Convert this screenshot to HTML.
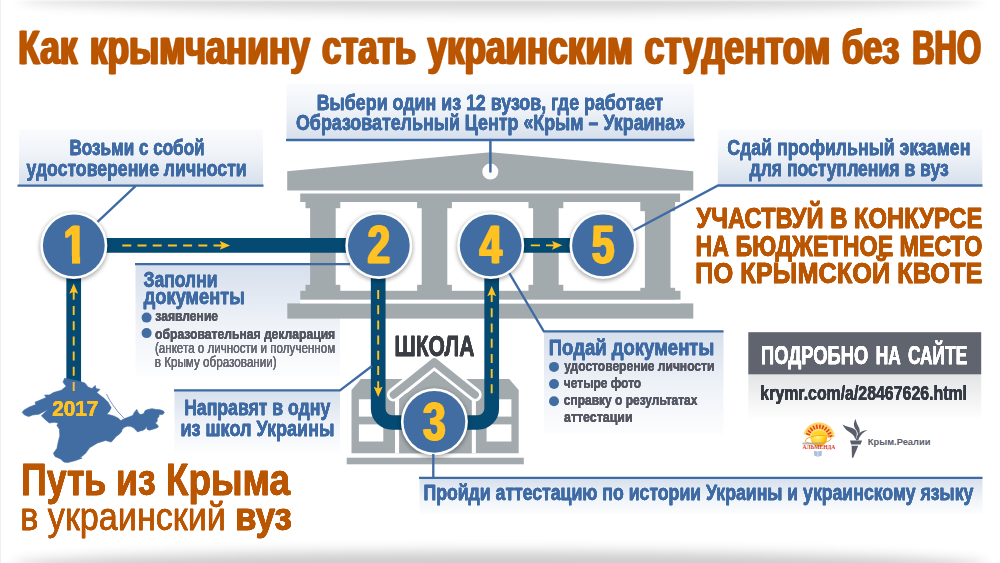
<!DOCTYPE html>
<html lang="ru">
<head>
<meta charset="utf-8">
<title>Как крымчанину стать украинским студентом без ВНО</title>
<style>
html,body{margin:0;padding:0;background:#fff;}
body{width:1000px;height:563px;overflow:hidden;}
svg{display:block;}
text{font-family:"Liberation Sans",sans-serif;font-weight:bold;stroke-linejoin:round;}
.bl{fill:#3f6ba4;stroke:#3f6ba4;}
.or{fill:#ba5404;stroke:#ba5404;}
.orr{fill:#ba5404;stroke:#ba5404;font-weight:normal;}
.dk{fill:#545762;stroke:#545762;}
.rg{fill:#666973;stroke:#666973;font-weight:normal;}
.sk{fill:#3a3c42;stroke:#3a3c42;}
.wh{fill:#fff;stroke:#fff;}
.url{fill:#343a44;stroke:#343a44;}
.kr{fill:#5a5f6b;}
.num{fill:#ffc222;stroke:#ffc222;}
.g{fill:#a3aaad;}
</style>
</head>
<body>
<svg width="1000" height="563" viewBox="0 0 1000 563">
<defs>
  <linearGradient id="gUp" x1="0" y1="0" x2="0" y2="1"><stop offset="0" stop-color="#fafbfd"/><stop offset="0.45" stop-color="#eff3f8"/><stop offset="1" stop-color="#d6dfec"/></linearGradient>
  <linearGradient id="gDn" x1="0" y1="0" x2="0" y2="1"><stop offset="0" stop-color="#d6dfec"/><stop offset="0.55" stop-color="#eff3f8"/><stop offset="1" stop-color="#fcfdfe"/></linearGradient>
  <linearGradient id="gSite" x1="0" y1="0" x2="0" y2="1"><stop offset="0" stop-color="#e3e4e6"/><stop offset="1" stop-color="#ffffff"/></linearGradient>
  <filter id="vg" filterUnits="userSpaceOnUse" x="-60" y="-80" width="1120" height="740"><feGaussianBlur stdDeviation="6.5"/></filter>
  <filter id="sh" x="-30%" y="-30%" width="160%" height="160%"><feGaussianBlur stdDeviation="2.2"/></filter>
  <filter id="hbN" x="-20%" y="-10%" width="140%" height="120%"><feOffset dx="-0.9" result="a"/><feOffset in="SourceGraphic" dx="0.9" result="b"/><feMerge><feMergeNode in="a"/><feMergeNode in="b"/><feMergeNode in="SourceGraphic"/></feMerge></filter>
  <filter id="hb10" x="-5%" y="-15%" width="110%" height="130%"><feOffset dx="-0.1" result="a"/><feOffset in="SourceGraphic" dx="0.1" result="b"/><feMerge><feMergeNode in="a"/><feMergeNode in="b"/><feMergeNode in="SourceGraphic"/></feMerge></filter>
  <filter id="hb15" x="-5%" y="-15%" width="110%" height="130%"><feOffset dx="-0.15" result="a"/><feOffset in="SourceGraphic" dx="0.15" result="b"/><feMerge><feMergeNode in="a"/><feMergeNode in="b"/><feMergeNode in="SourceGraphic"/></feMerge></filter>
  <filter id="hb25" x="-5%" y="-15%" width="110%" height="130%"><feOffset dx="-0.25" result="a"/><feOffset in="SourceGraphic" dx="0.25" result="b"/><feMerge><feMergeNode in="a"/><feMergeNode in="b"/><feMergeNode in="SourceGraphic"/></feMerge></filter>
  <filter id="hb30" x="-5%" y="-15%" width="110%" height="130%"><feOffset dx="-0.3" result="a"/><feOffset in="SourceGraphic" dx="0.3" result="b"/><feMerge><feMergeNode in="a"/><feMergeNode in="b"/><feMergeNode in="SourceGraphic"/></feMerge></filter>
  <filter id="hb40" x="-5%" y="-15%" width="110%" height="130%"><feOffset dx="-0.4" result="a"/><feOffset in="SourceGraphic" dx="0.4" result="b"/><feMerge><feMergeNode in="a"/><feMergeNode in="b"/><feMergeNode in="SourceGraphic"/></feMerge></filter>
  <filter id="hb70" x="-5%" y="-15%" width="110%" height="130%"><feOffset dx="-0.7" result="a"/><feOffset in="SourceGraphic" dx="0.7" result="b"/><feMerge><feMergeNode in="a"/><feMergeNode in="b"/><feMergeNode in="SourceGraphic"/></feMerge></filter>
  <radialGradient id="gSun" cx="0.4" cy="0.35" r="0.7"><stop offset="0" stop-color="#fff6a0"/><stop offset="0.6" stop-color="#ffd21e"/><stop offset="1" stop-color="#f39a12"/></radialGradient>
</defs>

<!-- background vignette -->
<rect x="0" y="0" width="1000" height="563" fill="#ffffff"/>
<ellipse cx="500" cy="-2" rx="482" ry="13.5" fill="#000" opacity=".155" filter="url(#vg)"/>
<ellipse cx="500" cy="566" rx="488" ry="14.5" fill="#000" opacity=".2" filter="url(#vg)"/>
<rect x="0" y="0" width="1000" height="1.4" fill="#fff" opacity=".5"/>
<rect x="0" y="0" width="1" height="563" fill="#efefef"/>

<!-- title -->
<g id="title">
  <text y="64" font-size="48.7" filter="url(#hb70)"><tspan class="or" x="18.37" textLength="59.12" lengthAdjust="spacingAndGlyphs" stroke-width="0.35">Как</tspan> <tspan class="or" x="89.76" textLength="220.24" lengthAdjust="spacingAndGlyphs" stroke-width="0.35">крымчанину</tspan> <tspan class="or" x="321.99" textLength="94.01" lengthAdjust="spacingAndGlyphs" stroke-width="0.35">стать</tspan> <tspan class="or" x="427.38" textLength="205.63" lengthAdjust="spacingAndGlyphs" stroke-width="0.35">украинским</tspan> <tspan class="or" x="644.46" textLength="186.09" lengthAdjust="spacingAndGlyphs" stroke-width="0.35">студентом</tspan> <tspan class="or" x="842.10" textLength="57.29" lengthAdjust="spacingAndGlyphs" stroke-width="0.35">без</tspan> <tspan class="or" x="912.24" textLength="68.74" lengthAdjust="spacingAndGlyphs" stroke-width="0.35">ВНО</tspan></text>
</g>

<!-- label backgrounds -->
<g id="boxes">
  <rect x="19" y="129.3" width="244" height="56.2" fill="url(#gUp)"/>
  <rect x="286.5" y="84" width="407.3" height="56" fill="url(#gUp)"/>
  <rect x="717.8" y="129.2" width="264.5" height="56.3" fill="url(#gUp)"/>
  <rect x="135.5" y="264" width="204.5" height="112" fill="url(#gDn)"/>
  <rect x="174.5" y="390" width="165.5" height="62" fill="url(#gDn)"/>
  <rect x="544" y="331" width="179.5" height="103" fill="url(#gDn)"/>
  <rect x="419.5" y="478" width="563" height="36" fill="url(#gDn)"/>
</g>

<!-- university building -->
<g id="building" class="g">
  <polygon points="287.2,171.3 490.3,152.2 693.3,171.3 693.3,190.4 287.2,190.4"/>
  <rect x="335" y="198" width="311" height="96" fill="#fff"/>
  <rect x="300.2" y="193.5" width="379.9" height="8.5"/>
  <rect x="305.5" y="201.5" width="34.8" height="6.7"/><rect x="310.1" y="208" width="25.6" height="80"/><rect x="305.5" y="284.8" width="34.8" height="6.4"/>
  <rect x="417.1" y="201.5" width="34.8" height="6.7"/><rect x="421.7" y="208" width="25.6" height="80"/><rect x="417.1" y="284.8" width="34.8" height="6.4"/>
  <rect x="528.5" y="201.5" width="34.8" height="6.7"/><rect x="533.1" y="208" width="25.6" height="80"/><rect x="528.5" y="284.8" width="34.8" height="6.4"/>
  <rect x="640.3" y="201.5" width="34.8" height="9.7"/><rect x="644.9" y="208" width="25.6" height="80"/><rect x="640.3" y="287.8" width="34.8" height="13.0"/>
  <rect x="300.3" y="290.8" width="380.2" height="9"/>
  <rect x="287.3" y="303.4" width="406" height="15.2"/>
  <rect x="300.3" y="299.8" width="380.2" height="3.6" fill="#fff"/>
</g>

<!-- school -->
<g id="school">
  <polygon class="g" points="351.5,390 361,379 509.2,379 518.7,390 518.7,453.2 351.5,453.2"/>
  <rect class="g" x="346.7" y="457.7" width="177.1" height="6.6"/>
  <g fill="#fff">
    <rect x="358.9" y="399.3" width="24.4" height="17.3"/><rect x="358.9" y="424.4" width="24.4" height="17.1"/>
    <rect x="486.6" y="399.3" width="24.8" height="17.3"/><rect x="486.6" y="424.4" width="24.8" height="17.1"/>
    <rect x="395" y="396" width="4.3" height="57.2"/><rect x="471.6" y="396" width="4.3" height="57.2"/>
  </g>
  <polygon fill="#fff" points="434.3,352 388,393 480.6,393"/>
  <polygon class="g" points="434.3,370.8 399.3,399.2 399.3,453.2 471.6,453.2 471.6,399.2"/>
  <polyline points="393.6,394.8 434.3,362.1 475,394.8" fill="none" stroke="#fff" stroke-width="13.4" stroke-linecap="round" stroke-linejoin="round"/>
  <polyline points="393.6,394.8 434.3,362.1 475,394.8" fill="none" stroke="#a3aaad" stroke-width="7.8" stroke-linecap="round" stroke-linejoin="round"/>
</g>

<!-- route -->
<g id="pipes">
  <g fill="none" stroke="#054a72" stroke-width="14.7">
    <path d="M73.7,245.4 V386"/>
    <path d="M73.7,245.45 H378.3"/>
    <path d="M378.2,245.4 V408.5 A14,14 0 0 0 392.2,422.5 H434.3"/>
    <path d="M434.3,422.5 H477.7 A14,14 0 0 0 491.7,408.5 V245.4"/>
    <path d="M490.6,245.35 H603"/>
  </g>
  <g fill="none" stroke="#ffc222" stroke-width="1.9" stroke-dasharray="9 6.2">
    <path d="M122.3,245.45 H222.5"/>
    <path d="M73.7,391 V291"/>
    <path d="M378.2,290 V389"/>
    <path d="M491.7,393.3 V293"/>
    <path d="M530.8,245.35 H540 M546,245.35 H554" stroke-dasharray="none"/>
  </g>
  <polygon fill="#ffc222" points="230.1,245.4 219.8,241.0 221.7,245.4 219.8,249.8"/>
  <polygon fill="#ffc222" points="73.7,283.4 69.3,293.7 73.7,291.8 78.1,293.7"/>
  <polygon fill="#ffc222" points="378.2,397.0 373.8,386.7 378.2,388.6 382.6,386.7"/>
  <polygon fill="#ffc222" points="491.7,285.9 487.3,296.2 491.7,294.3 496.1,296.2"/>
  <polygon fill="#ffc222" points="562.3,245.3 552.0,240.9 553.9,245.3 552.0,249.8"/>
</g>

<!-- crimea -->
<g id="crimea">
  <polygon fill="#416da3" stroke="#416da3" stroke-width=".6" stroke-linejoin="round" points="64.6,378.2 63.0,382.2 66.2,386.2 61.4,390.2 53.4,392.6 49.4,395.0 44.6,395.0 46.2,397.4 39.0,400.6 35.0,402.2 35.8,404.6 29.4,407.0 23.8,410.2 22.2,412.6 24.6,415.0 28.6,416.6 32.6,415.0 39.0,414.2 47.8,409.4 41.4,415.8 45.4,419.8 49.4,423.0 54.2,422.2 58.2,423.0 56.9,425.4 59.4,429.3 59.8,435.7 58.2,442.1 56.9,448.5 53.4,453.3 55.0,456.5 60.6,458.9 63.8,462.1 67.7,462.6 75.7,460.5 82.1,458.1 80.0,458.1 85.6,453.3 89.6,447.7 97.6,442.9 105.6,440.5 111.2,442.1 113.6,439.4 116.0,436.6 119.2,434.2 121.6,431.8 122.0,429.8 124.0,427.4 127.2,426.2 130.4,426.3 133.6,427.8 136.0,430.2 137.6,431.9 140.0,431.0 143.2,430.2 145.6,428.6 146.4,425.8 147.2,429.4 149.6,430.2 152.0,429.4 156.0,428.2 158.4,427.0 157.6,425.0 155.2,423.0 157.2,421.4 157.2,418.2 158.8,417.0 159.2,414.6 162.4,414.6 164.3,413.0 163.5,411.0 160.0,409.8 156.0,409.4 152.0,408.7 148.0,409.4 145.2,410.6 143.6,413.8 140.0,414.6 138.0,412.2 136.8,409.4 134.4,412.2 132.8,415.4 128.8,417.0 124.8,418.6 120.8,420.6 118.4,418.2 114.4,416.2 110.4,415.0 106.8,414.2 109.6,411.0 111.2,407.8 108.0,402.2 104.0,398.2 100.8,395.8 96.8,392.6 100.0,389.4 96.0,388.6 95.2,385.4 92.0,388.6 88.0,387.0 84.8,383.0 80.0,381.4"/>
  <path d="M106.4,393.9 Q110,401 112.5,404.5 Q117.5,412 124.2,418.5" fill="none" stroke="#416da3" stroke-width=".7"/>
  <path d="M73.7,391 V376" stroke="#ffc222" stroke-width="1.9" stroke-dasharray="9 6.2" fill="none"/>
  <text class="num" x="52.30" y="416.4" font-size="22.9" textLength="46.09" lengthAdjust="spacingAndGlyphs" filter="url(#hb25)" stroke-width="0.2">2017</text>
</g>

<!-- step circles -->
<g id="circles">
  <circle cx="73.8" cy="246.9" r="34" fill="#000" opacity=".33" filter="url(#sh)"/><circle cx="73.8" cy="245.4" r="33.5" fill="#fff"/><circle cx="73.8" cy="245.4" r="30.9" fill="#416da3"/>
  <circle cx="378.8" cy="246.9" r="34" fill="#000" opacity=".33" filter="url(#sh)"/><circle cx="378.8" cy="245.4" r="33.5" fill="#fff"/><circle cx="378.8" cy="245.4" r="30.9" fill="#416da3"/>
  <circle cx="490.7" cy="246.9" r="34" fill="#000" opacity=".33" filter="url(#sh)"/><circle cx="490.7" cy="245.4" r="33.5" fill="#fff"/><circle cx="490.7" cy="245.4" r="30.9" fill="#416da3"/>
  <circle cx="603" cy="246.9" r="34" fill="#000" opacity=".33" filter="url(#sh)"/><circle cx="603" cy="245.4" r="33.5" fill="#fff"/><circle cx="603" cy="245.4" r="30.9" fill="#416da3"/>
  <circle cx="434.4" cy="423.3" r="34" fill="#000" opacity=".33" filter="url(#sh)"/><circle cx="434.4" cy="421.8" r="33.5" fill="#fff"/><circle cx="434.4" cy="421.8" r="30.9" fill="#416da3"/>
  <text class="num" x="74.8" y="263.4" font-size="54" text-anchor="middle" textLength="22.6" lengthAdjust="spacingAndGlyphs" stroke-width="0.3" filter="url(#hbN)">1</text>
  <text class="num" x="378.8" y="263.4" font-size="54" text-anchor="middle" textLength="22.6" lengthAdjust="spacingAndGlyphs" stroke-width="0.3" filter="url(#hbN)">2</text>
  <text class="num" x="490.7" y="263.4" font-size="54" text-anchor="middle" textLength="22.6" lengthAdjust="spacingAndGlyphs" stroke-width="0.3" filter="url(#hbN)">4</text>
  <text class="num" x="603" y="263.4" font-size="54" text-anchor="middle" textLength="22.6" lengthAdjust="spacingAndGlyphs" stroke-width="0.3" filter="url(#hbN)">5</text>
  <text class="num" x="434.4" y="439.8" font-size="54" text-anchor="middle" textLength="22.6" lengthAdjust="spacingAndGlyphs" stroke-width="0.3" filter="url(#hbN)">3</text>
  <rect x="61" y="256" width="11" height="9.2" fill="#416da3"/><rect x="80.1" y="256" width="8" height="9.2" fill="#416da3"/>
  </g>

<!-- labels -->
<g id="labels">
  <g fill="none" stroke="#3f6ba4" stroke-width="2.3">
    <path d="M17.5,185.6 H263.5 M136,185.6 L97.5,221.9"/>
    <path d="M286,140 H694.5"/>
    <path d="M982.5,185.5 H718 L633.6,230.6"/>
    <path d="M135,264.2 H350"/>
    <path d="M174,390.3 H340 L372,366"/>
    <path d="M723.5,331.4 H543.8 L509.3,273.2"/>
    <path d="M433.3,454 V477.9 M419,477.9 H982.5"/>
  </g>
  <circle cx="490.3" cy="171.6" r="8" fill="#fff"/>
  <path d="M490.4,140 V171.6" stroke="#3f6ba4" stroke-width="2.5" stroke-linecap="round"/>
  <text class="bl" x="69.48" y="154.6" font-size="22.8" textLength="135.13" lengthAdjust="spacingAndGlyphs" filter="url(#hb40)" stroke-width="0.3">Возьми с собой</text>
  <text class="bl" x="26.55" y="175.7" font-size="22.8" textLength="220.10" lengthAdjust="spacingAndGlyphs" filter="url(#hb40)" stroke-width="0.3">удостоверение личности</text>
  <text class="bl" x="316.74" y="109.8" font-size="22.8" textLength="346.59" lengthAdjust="spacingAndGlyphs" filter="url(#hb40)" stroke-width="0.3">Выбери один из 12 вузов, где работает</text>
  <text class="bl" x="295.99" y="130.4" font-size="22.8" textLength="389.18" lengthAdjust="spacingAndGlyphs" filter="url(#hb40)" stroke-width="0.3">Образовательный Центр «Крым – Украина»</text>
  <text class="bl" x="727.30" y="154.9" font-size="22.8" textLength="243.07" lengthAdjust="spacingAndGlyphs" filter="url(#hb40)" stroke-width="0.3">Сдай профильный экзамен</text>
  <text class="bl" x="749.55" y="176.1" font-size="22.8" textLength="199.10" lengthAdjust="spacingAndGlyphs" filter="url(#hb40)" stroke-width="0.3">для поступления в вуз</text>
  <text class="or" x="696.45" y="228.2" font-size="29" textLength="285.83" lengthAdjust="spacingAndGlyphs" filter="url(#hb40)" stroke-width="0.5">УЧАСТВУЙ В КОНКУРСЕ</text>
  <text class="or" x="695.50" y="255.5" font-size="29" textLength="286.80" lengthAdjust="spacingAndGlyphs" filter="url(#hb40)" stroke-width="0.5">НА БЮДЖЕТНОЕ МЕСТО</text>
  <text class="or" x="695.37" y="283" font-size="29" textLength="286.95" lengthAdjust="spacingAndGlyphs" filter="url(#hb40)" stroke-width="0.5">ПО КРЫМСКОЙ КВОТЕ</text>
  <text class="bl" x="143.48" y="286.9" font-size="22.6" textLength="74.06" lengthAdjust="spacingAndGlyphs" filter="url(#hb40)" stroke-width="0.3">Заполни</text>
  <text class="bl" x="143.75" y="304.3" font-size="22.6" textLength="101.14" lengthAdjust="spacingAndGlyphs" filter="url(#hb40)" stroke-width="0.3">документы</text>
  <circle cx="146.6" cy="317.6" r="5" fill="#416da3"/><circle cx="146.6" cy="333.1" r="5" fill="#416da3"/>
  <text class="dk" x="155.31" y="320.9" font-size="15.4" textLength="62.79" lengthAdjust="spacingAndGlyphs" filter="url(#hb15)" stroke-width="0.1">заявление</text>
  <text class="dk" x="155.12" y="338.5" font-size="15.4" textLength="180.10" lengthAdjust="spacingAndGlyphs" filter="url(#hb15)" stroke-width="0.1">образовательная декларация</text>
  <text class="rg" x="154.91" y="353.3" font-size="15.4" textLength="180.27" lengthAdjust="spacingAndGlyphs" filter="url(#hb10)" stroke-width="0.1">(анкета о личности и полученном</text>
  <text class="rg" x="154.72" y="366.7" font-size="15.4" textLength="122.03" lengthAdjust="spacingAndGlyphs" filter="url(#hb10)" stroke-width="0.1">в Крыму образовании)</text>
  <text class="bl" x="184.15" y="414.7" font-size="22.8" textLength="146.09" lengthAdjust="spacingAndGlyphs" filter="url(#hb40)" stroke-width="0.3">Направят в одну</text>
  <text class="bl" x="180.52" y="436.2" font-size="22.8" textLength="153.96" lengthAdjust="spacingAndGlyphs" filter="url(#hb40)" stroke-width="0.3">из школ Украины</text>
  <text class="sk" x="394.43" y="355.5" font-size="28.6" textLength="80.02" lengthAdjust="spacingAndGlyphs" filter="url(#hb40)" stroke-width="0.3">ШКОЛА</text>
  <text class="bl" x="548.79" y="354.8" font-size="22.9" textLength="165.42" lengthAdjust="spacingAndGlyphs" filter="url(#hb40)" stroke-width="0.3">Подай документы</text>
  <circle cx="554" cy="366.9" r="5" fill="#416da3"/><circle cx="554" cy="384" r="5" fill="#416da3"/><circle cx="554" cy="401.2" r="5" fill="#416da3"/>
  <text class="dk" x="564.20" y="371.3" font-size="15.4" textLength="150.12" lengthAdjust="spacingAndGlyphs" filter="url(#hb15)" stroke-width="0.1">удостоверение личности</text>
  <text class="dk" x="563.82" y="388.1" font-size="15.4" textLength="77.37" lengthAdjust="spacingAndGlyphs" filter="url(#hb15)" stroke-width="0.1">четыре фото</text>
  <text class="dk" x="563.83" y="405" font-size="15.4" textLength="133.60" lengthAdjust="spacingAndGlyphs" filter="url(#hb15)" stroke-width="0.1">справку о результатах</text>
  <text class="dk" x="564.01" y="422" font-size="15.4" textLength="68.64" lengthAdjust="spacingAndGlyphs" filter="url(#hb15)" stroke-width="0.1">аттестации</text>
  <text class="bl" x="423.45" y="499.9" font-size="22.8" textLength="549.89" lengthAdjust="spacingAndGlyphs" filter="url(#hb40)" stroke-width="0.3">Пройди аттестацию по истории Украины и украинскому языку</text>
  <text y="495" font-size="43.5" filter="url(#hb40)"><tspan class="or" x="21.02" textLength="85.23" lengthAdjust="spacingAndGlyphs" stroke-width="0.5">Путь</tspan> <tspan class="or" x="116.12" textLength="39.64" lengthAdjust="spacingAndGlyphs" stroke-width="0.5">из</tspan> <tspan class="or" x="165.84" textLength="124.18" lengthAdjust="spacingAndGlyphs" stroke-width="0.5">Крыма</tspan></text>
  <text y="529.6" font-size="38.6" filter="url(#hb40)"><tspan class="orr" x="20.22" textLength="205.74" lengthAdjust="spacingAndGlyphs" stroke-width="0.3">в украинский</tspan> <tspan class="or" x="235.07" textLength="56.87" lengthAdjust="spacingAndGlyphs" stroke-width="0.7">вуз</tspan></text>
</g>

<!-- site box -->
<g id="site">
  <rect x="748.3" y="374" width="232.9" height="46" fill="url(#gSite)"/>
  <rect x="748.3" y="332.2" width="232.9" height="42.1" fill="#5f646f"/>
  <text y="363.6" font-size="26.5" filter="url(#hb30)"><tspan class="wh" x="761.08" textLength="107.10" lengthAdjust="spacingAndGlyphs" stroke-width="0.25">ПОДРОБНО</tspan> <tspan class="wh" x="875.84" textLength="24.96" lengthAdjust="spacingAndGlyphs" stroke-width="0.25">НА</tspan> <tspan class="wh" x="907.88" textLength="59.35" lengthAdjust="spacingAndGlyphs" stroke-width="0.25">САЙТЕ</tspan></text>
  <text class="url" x="760.36" y="399.8" font-size="20.2" textLength="206.63" lengthAdjust="spacingAndGlyphs" filter="url(#hb25)" stroke-width="0.2">krymr.com/a/28467626.html</text>
  <g transform="translate(795,415) scale(0.0853)">
    <g fill="none" stroke-linecap="butt"><path d="M380,265 A100,100 0 0 0 183,248 L100,227 A186,186 0 0 1 466,259Z" fill="#fbc531" stroke="none" opacity=".75"/><path d="M175,234 L130,217" stroke="#e8401c" stroke-width="19"/><path d="M188,208 L149,180" stroke="#e8401c" stroke-width="19"/><path d="M208,186 L177,149" stroke="#e8401c" stroke-width="19"/><path d="M233,170 L212,127" stroke="#e8401c" stroke-width="19"/><path d="M261,162 L252,114" stroke="#e8401c" stroke-width="19"/><path d="M290,160 L294,113" stroke="#e8401c" stroke-width="19"/><path d="M318,167 L335,122" stroke="#e8401c" stroke-width="19"/><path d="M344,180 L372,141" stroke="#e8401c" stroke-width="19"/><path d="M366,200 L403,169" stroke="#e8401c" stroke-width="19"/><path d="M382,225 L425,204" stroke="#e8401c" stroke-width="19"/><path d="M390,253 L438,244" stroke="#e8401c" stroke-width="19"/></g>
    <circle cx="280" cy="272" r="97" fill="url(#gSun)"/>
    <ellipse cx="272" cy="288" rx="152" ry="48" fill="none" stroke="#f59a1a" stroke-width="10" transform="rotate(-6 272 288)"/>
    <path d="M190,250 A97,97 0 0 1 372,250 Q280,215 190,250Z" fill="#ffd21e" opacity=".9"/>
    <rect x="88" y="322" width="225" height="24" fill="#a5a8a8" opacity=".8"/>
    <text x="88" y="402" font-size="62" textLength="385" lengthAdjust="spacingAndGlyphs" style="font-family:'Liberation Serif',serif;font-weight:bold" fill="#d9361c" stroke="none">АЛЬМЕНДА</text>
    <path d="M222,418 L268,428 L315,418 L312,478 L268,488 L226,478Z" fill="#a9c1de"/>
    <path d="M268,428 V488" stroke="#e8eef6" stroke-width="8"/>
    <g fill="#595e6a">
      <path d="M645,300 H787 L768,346 H658Z"/>
      <path d="M664,360 H742 L682,502 H668Z"/>
      <path d="M706,288 C700,225 640,205 600,172 C580,152 566,132 560,112 C600,142 665,140 705,172 C735,200 728,250 706,288Z"/>
      <path d="M712,48 C678,100 688,142 720,180 C742,210 742,242 722,276 C764,232 768,182 746,140 C730,110 716,85 712,48Z"/>
      <path d="M852,176 C800,180 768,196 744,226 C724,250 718,275 714,297 L742,297 C756,250 792,202 852,176Z"/>
    </g>
  </g>
  <text class="kr" x="867.79" y="444.5" font-size="8.4" textLength="62.64" lengthAdjust="spacingAndGlyphs" stroke-width="0">Крым.Реалии</text>
</g>
</svg>
</body>
</html>
